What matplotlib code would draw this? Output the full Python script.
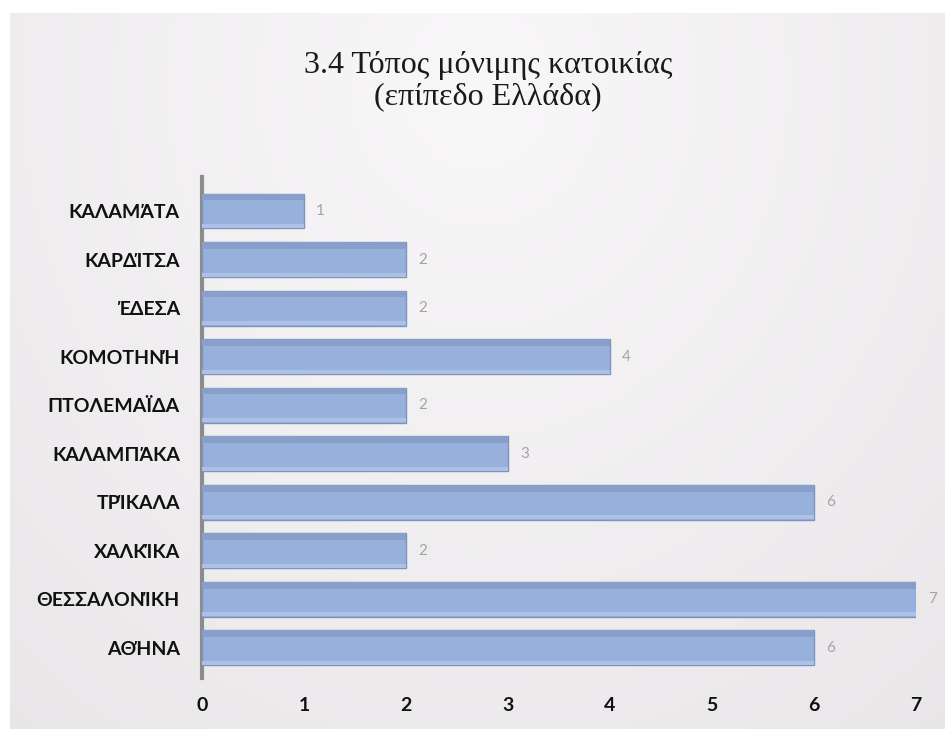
import numpy as np
import matplotlib
matplotlib.use("Agg")
import matplotlib.pyplot as plt

categories = ["ΚΑΛΑΜΆΤΑ", "ΚΑΡΔΊΤΣΑ", "ΈΔΕΣΑ", "ΚΟΜΟΤΗΝΉ", "ΠΤΟΛΕΜΑΪΔΑ",
              "ΚΑΛΑΜΠΆΚΑ", "ΤΡΊΚΑΛΑ", "ΧΑΛΚΊΚΑ", "ΘΕΣΣΑΛΟΝΊΚΗ", "ΑΘΉΝΑ"]
values = [1, 2, 2, 4, 2, 3, 6, 2, 7, 6]
xticks = [0, 1, 2, 3, 4, 5, 6, 7]
title_line1 = "3.4 Τόπος μόνιμης κατοικίας"
title_line2 = "(επίπεδο Ελλάδα)"

W, H = 952, 737
fig = plt.figure(figsize=(W / 100, H / 100), dpi=100, facecolor="white")

# background frame with soft gradient
bg = fig.add_axes([10 / W, 8 / H, 935 / W, 716 / H])
yy, xx = np.mgrid[0:1:200j, 0:1:300j]
d = np.sqrt(((xx - 0.5) / 0.75) ** 2 + ((yy - 0.1) / 1.1) ** 2)
shade = np.clip(1 - 0.55 * d, 0, 1)
c_edge = np.array([0.870, 0.857, 0.867])
c_mid = np.array([0.975, 0.970, 0.975])
img = c_edge[None, None, :] + (c_mid - c_edge)[None, None, :] * shade[:, :, None]
bg.imshow(img, aspect="auto", extent=[0, 1, 0, 1], origin="upper")
bg.set_xlim(0, 1); bg.set_ylim(0, 1)
bg.axis("off")

fig.text(488 / W, 1 - 66 / H, title_line1, ha="center", va="center",
         family="Liberation Serif", fontsize=23, color="#1a1a1a")
fig.text(488 / W, 1 - 97 / H, title_line2, ha="center", va="center",
         family="Liberation Serif", fontsize=23, color="#1a1a1a")

ax = fig.add_axes([202 / W, 1 - 678 / H, (916 - 202) / W, (678 - 177) / H])
ax.patch.set_alpha(0)
n = len(categories)
ypos = np.arange(n)[::-1]
bh = 0.72
ax.barh(ypos, values, height=bh, color="#98b0dc", edgecolor="#7d93be",
        linewidth=1.0, zorder=3)
# darker top face strip for 3D look
ax.barh(ypos + bh / 2 - 0.07, values, height=0.14, color="#879fc9",
        edgecolor="none", zorder=4)
# light bottom highlight
ax.barh(ypos - bh / 2 + 0.05, values, height=0.08, color="#adc1e6",
        edgecolor="none", zorder=4)

for y, v in zip(ypos, values):
    ax.text(v + 0.12, y, str(v), va="center", ha="left", fontsize=11,
            color="#a4a4a4", family="Lato")

ax.set_xlim(0, 7)
ax.set_ylim(-0.62, n - 1 + 0.70)
ax.set_yticks(ypos)
ax.set_yticklabels(categories, family="Lato", fontweight="bold", fontsize=14,
                   color="#111111")
ax.set_xticks(xticks)
ax.set_xticklabels([str(t) for t in xticks], family="Lato", fontweight="bold",
                   fontsize=14, color="#111111")
ax.tick_params(axis="y", length=0, pad=16)
ax.tick_params(axis="x", length=0, pad=14)
for s in ["top", "right", "bottom"]:
    ax.spines[s].set_visible(False)
ax.spines["left"].set_color("#8c8c8c")
ax.spines["left"].set_linewidth(3)

fig.savefig("out.png", dpi=100, facecolor="white")
